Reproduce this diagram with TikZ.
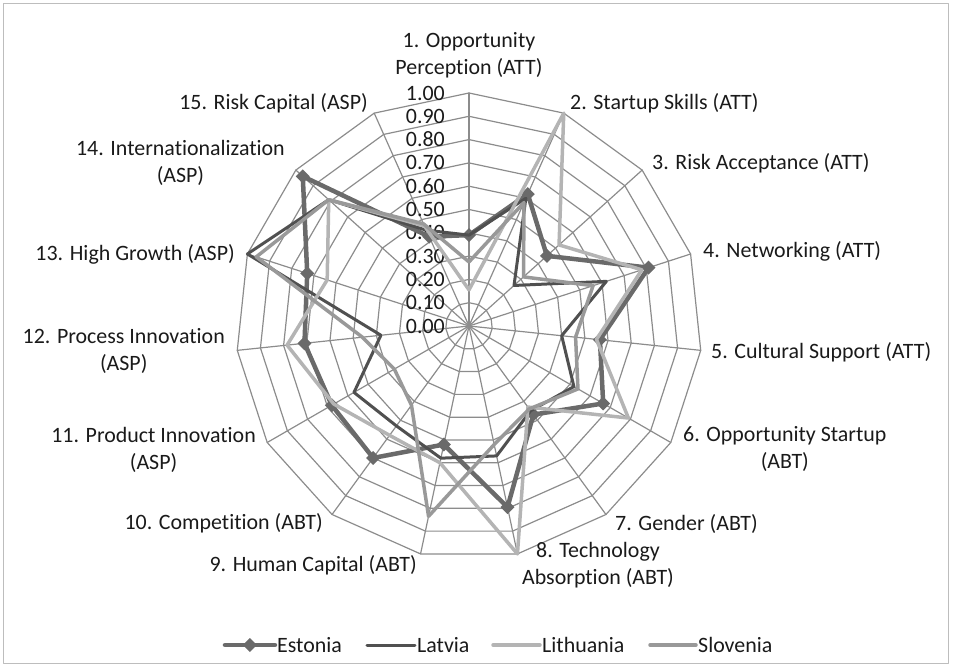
\documentclass[tikz,border=0pt]{standalone}
\usepackage{fontspec}
\setmainfont{Carlito}[Ligatures=NoCommon]
\usetikzlibrary{calc}

\definecolor{gridgray}{HTML}{8C8C8C}
\definecolor{framegray}{HTML}{BDBDBD}
\definecolor{estcol}{HTML}{6A6A6A}
\definecolor{latcol}{HTML}{505050}
\definecolor{litcol}{HTML}{B4B4B4}
\definecolor{slocol}{HTML}{999999}
\definecolor{txtcol}{HTML}{1A1A1A}

\begin{document}
\begin{tikzpicture}[
        x=1bp, y=1bp, line join=round, line cap=round,
        web/.style={draw=gridgray, line width=1.2bp},
        lbl/.style={font=\fontsize{22}{26.6}\selectfont, text=txtcol,
                    inner sep=0pt, align=center},
        estline/.style={draw=estcol, line width=4.5bp},
        latline/.style={draw=latcol, line width=3bp},
        litline/.style={draw=litcol, line width=3.5bp},
        sloline/.style={draw=slocol, line width=3.5bp},
    ]
    \useasboundingbox (-469,-341) rectangle (484,326);
    \draw[framegray, line width=1bp] (-465,-337) rectangle (479,322);

    % web
    \foreach \k in {1,...,10}
        \draw[web] (90:\k*23.3) \foreach \i in {1,...,14} { -- (90-\i*24:\k*23.3) } -- cycle;
    \foreach \i in {0,...,14}
        \draw[web] (0,0) -- (90-\i*24:233);

    % scale
    \foreach \v [count=\k from 0] in {0.00,0.10,0.20,0.30,0.40,0.50,0.60,0.70,0.80,0.90,1.00}
        \node[lbl, anchor=east] (tick\k) at (-24,\k*23.3) {\v};

    % series
    \foreach \v [count=\i from 0] in {0.39,0.62,0.45,0.81,0.565,0.665,0.47,0.795,0.52,0.70,0.68,0.71,0.73,0.96,0.42}
        \coordinate (est\i) at (90-\i*24:\v*233);
    \foreach \v [count=\i from 0] in {0.39,0.60,0.26,0.62,0.40,0.52,0.45,0.57,0.58,0.53,0.57,0.38,1.00,0.81,0.45}
        \coordinate (lat\i) at (90-\i*24:\v*233);
    \foreach \v [count=\i from 0] in {0.155,1.00,0.52,0.78,0.55,0.79,0.43,1.00,0.60,0.58,0.67,0.785,0.64,0.81,0.47}
        \coordinate (lit\i) at (90-\i*24:\v*233);
    \foreach \v [count=\i from 0] in {0.275,0.58,0.315,0.56,0.46,0.54,0.44,0.52,0.835,0.42,0.37,0.46,0.96,0.81,0.48}
        \coordinate (slo\i) at (90-\i*24:\v*233);

    \draw[estline] (est0) \foreach \i in {1,...,14} { -- (est\i) } -- cycle;
    \foreach \i in {0,...,14}
        \fill[estcol] (est\i) +(0,7) -- +(7,0) -- +(0,-7) -- +(-7,0) -- cycle;
    \draw[latline] (lat0) \foreach \i in {1,...,14} { -- (lat\i) } -- cycle;
    \draw[litline] (lit0) \foreach \i in {1,...,14} { -- (lit\i) } -- cycle;
    \draw[sloline] (slo0) \foreach \i in {1,...,14} { -- (slo\i) } -- cycle;

    % category labels
    \node[lbl] (cat1) at (0,271) {1. Opportunity\\Perception (ATT)};
    \node[lbl, anchor=west] (cat2) at (101,223) {2. Startup Skills (ATT)};
    \node[lbl, anchor=west] (cat3) at (183,163) {3. Risk Acceptance (ATT)};
    \node[lbl, anchor=west] (cat4) at (234,75) {4. Networking (ATT)};
    \node[lbl, anchor=west] (cat5) at (242,-26) {5. Cultural Support (ATT)};
    \node[lbl, anchor=west] (cat6) at (214,-123) {6. Opportunity Startup\\(ABT)};
    \node[lbl, anchor=west] (cat7) at (146,-198) {7. Gender (ABT)};
    \node[lbl] (cat8) at (129,-239) {8. Technology\\Absorption (ABT)};
    \node[lbl, anchor=east] (cat9) at (-52,-239) {9. Human Capital (ABT)};
    \node[lbl, anchor=east] (cat10) at (-146,-197) {10. Competition (ABT)};
    \node[lbl, anchor=east] (cat11) at (-213,-124) {11. Product Innovation\\(ASP)};
    \node[lbl, anchor=east] (cat12) at (-244,-25) {12. Process Innovation\\(ASP)};
    \node[lbl, anchor=east] (cat13) at (-234,72) {13. High Growth (ASP)};
    \node[lbl, anchor=east] (cat14) at (-184,163) {14. Internationalization\\(ASP)};
    \node[lbl, anchor=east] (cat15) at (-101,223) {15. Risk Capital (ASP)};

    % legend
    \coordinate (estA) at (-244,-319); \coordinate (estB) at (-194,-319);
    \draw[estline] (estA) -- (estB);
    \fill[estcol] ($(estA)!0.5!(estB)$) +(0,7) -- +(7,0) -- +(0,-7) -- +(-7,0) -- cycle;
    \node[lbl, anchor=west] (legest) at (-192,-319) {Estonia};
    \coordinate (latA) at (-102,-319); \coordinate (latB) at (-54,-319);
    \draw[latline] (latA) -- (latB);
    \node[lbl, anchor=west] (leglat) at (-52,-319) {Latvia};
    \coordinate (litA) at (24,-319); \coordinate (litB) at (71,-319);
    \draw[litline] (litA) -- (litB);
    \node[lbl, anchor=west] (leglit) at (73,-319) {Lithuania};
    \coordinate (sloA) at (181,-319); \coordinate (sloB) at (227,-319);
    \draw[sloline] (sloA) -- (sloB);
    \node[lbl, anchor=west] (legslo) at (229,-319) {Slovenia};
\end{tikzpicture}
\end{document}
